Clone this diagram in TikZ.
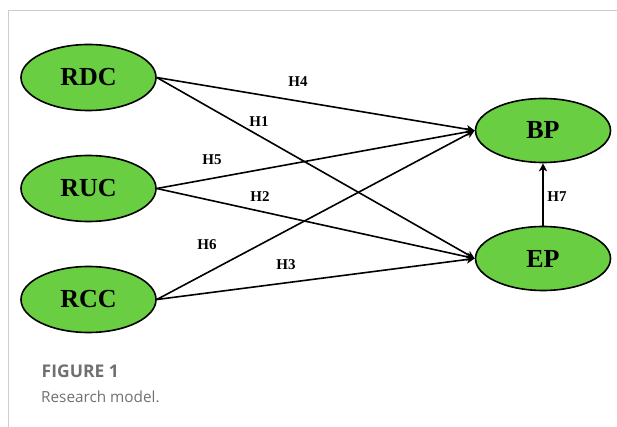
\documentclass[tikz,border=0pt]{standalone}
\usepackage{fontspec}
\setmainfont{Liberation Serif}
\newfontfamily\capfont{Open Sans}
\usetikzlibrary{arrows.meta,shapes.geometric}
\definecolor{nodegreen}{RGB}{106,206,66}
\definecolor{framegray}{RGB}{205,205,205}
\definecolor{capgray}{RGB}{112,112,112}
\begin{document}
\begin{tikzpicture}[x=1pt,y=-1pt,
  construct/.style={ellipse, draw=black, line width=1.6pt, fill=nodegreen,
    minimum width=135pt, minimum height=66pt, inner sep=0pt,
    font=\fontsize{26}{26}\selectfont\bfseries},
  path/.style={line width=1.6pt, -{Stealth[length=8pt,width=8pt,inset=2pt]}},
  hyp/.style={font=\fontsize{15}{15}\selectfont\bfseries, inner sep=1pt}]
\useasboundingbox (0,0) rectangle (617,427);
% frame
\draw[framegray, line width=1pt] (8.5,427) -- (8.5,10.5) -- (617,10.5);
% constructs
\node[construct] (rdc) at (88.5,77.5) {RDC};
\node[construct] (ruc) at (88.5,188.5) {RUC};
\node[construct] (rcc) at (88.5,299.5) {RCC};
\node[construct, minimum height=64pt] (bp) at (543,130.5) {BP};
\node[construct, minimum height=64pt] (ep) at (543,258.5) {EP};
% hypothesised paths
\draw[path] (rdc.east) -- (bp.west);
\draw[path] (rdc.east) -- (ep.west);
\draw[path] (ruc.east) -- (bp.west);
\draw[path] (ruc.east) -- (ep.west);
\draw[path] (rcc.east) -- (bp.west);
\draw[path] (rcc.east) -- (ep.west);
\draw[path] (ep.north) -- (bp.south);
% path labels
\node[hyp] (h4) at (298,82) {H4};
\node[hyp] (h1) at (259,122) {H1};
\node[hyp] (h5) at (212,160) {H5};
\node[hyp] (h2) at (260,197) {H2};
\node[hyp] (h6) at (207,245) {H6};
\node[hyp] (h3) at (286,265) {H3};
\node[hyp] (h7) at (557,197) {H7};
% caption
\node[anchor=base west, inner sep=0pt, text=capgray, font=\capfont\fontsize{17.5}{17.5}\selectfont\bfseries] (figno) at (41.5,377.5) {FIGURE 1};
\node[anchor=base west, inner sep=0pt, text=capgray, font=\capfont\fontsize{15.3}{15.3}\selectfont] (figcap) at (41,402) {Research model.};
\end{tikzpicture}
\end{document}
